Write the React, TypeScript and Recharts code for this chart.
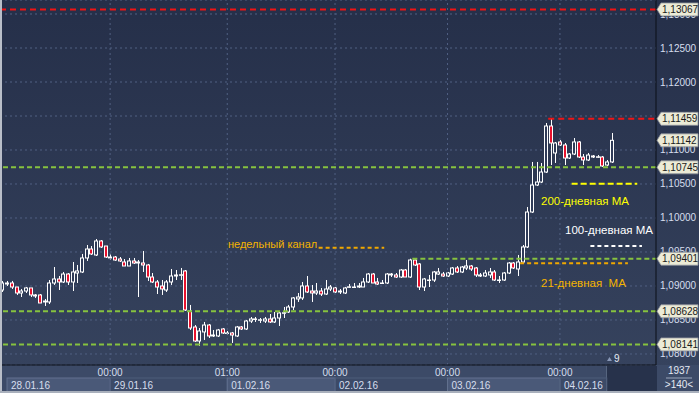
import React from 'react'
import { ComposedChart, Bar, XAxis, YAxis, CartesianGrid, ReferenceLine } from 'recharts'

// hourly EUR/USD candles, 28.01.16 - 04.02.16
const opens = [
  1.08941, 1.09044, 1.09044, 1.08985, 1.08897, 1.08926, 1.08971, 1.08868, 1.08868, 1.08765,
  1.08765, 1.09044, 1.09103, 1.09059, 1.09176, 1.09059, 1.09191, 1.09206, 1.09412, 1.09544,
  1.09456, 1.09662, 1.09588, 1.09426, 1.09426, 1.09397, 1.09353, 1.09294, 1.09368, 1.09338,
  1.09338, 1.09309, 1.09132, 1.09059, 1.09000, 1.08941, 1.09059, 1.09162, 1.09162, 1.09221,
  1.08632, 1.08397, 1.08191, 1.08324, 1.08426, 1.08279, 1.08265, 1.08368, 1.08309, 1.08309,
  1.08265, 1.08397, 1.08368, 1.08485, 1.08515, 1.08500, 1.08485, 1.08515, 1.08471, 1.08529,
  1.08603, 1.08618, 1.08691, 1.08809, 1.08824, 1.09000, 1.08926, 1.08897, 1.08926, 1.08882,
  1.08956, 1.08971, 1.08912, 1.08897, 1.08985, 1.08985, 1.08985, 1.08985, 1.09059, 1.09176,
  1.09059, 1.09044, 1.09044, 1.09176, 1.09162, 1.09132, 1.09235, 1.09132, 1.09382, 1.09324,
  1.08985, 1.09088, 1.09088, 1.09176, 1.09176, 1.09147, 1.09176, 1.09265, 1.09206, 1.09265,
  1.09294, 1.09265, 1.09162, 1.09147, 1.09162, 1.09206, 1.09088, 1.09088, 1.09191, 1.09338,
  1.09250, 1.09353, 1.09574, 1.10088, 1.10485, 1.10529, 1.10676, 1.11353, 1.10956, 1.11118,
  1.11074, 1.10882, 1.10941, 1.11118, 1.10897, 1.10853, 1.10912, 1.10897, 1.10897, 1.10779,
  1.10824,
]
const highs = [
  1.09074, 1.09074, 1.09074, 1.08985, 1.08956, 1.08985, 1.08971, 1.08882, 1.08882, 1.08809,
  1.09088, 1.09279, 1.09147, 1.09206, 1.09191, 1.09353, 1.09309, 1.09471, 1.09603, 1.09588,
  1.09691, 1.09676, 1.09588, 1.09471, 1.09441, 1.09426, 1.09397, 1.09412, 1.09412, 1.09382,
  1.09515, 1.09324, 1.09191, 1.09088, 1.09088, 1.09088, 1.09250, 1.09235, 1.09265, 1.09235,
  1.08721, 1.08426, 1.08382, 1.08471, 1.08441, 1.08353, 1.08368, 1.08382, 1.08338, 1.08324,
  1.08412, 1.08412, 1.08500, 1.08544, 1.08544, 1.08529, 1.08544, 1.08588, 1.08618, 1.08618,
  1.08691, 1.08721, 1.08838, 1.08897, 1.09059, 1.09147, 1.09015, 1.09044, 1.08971, 1.09088,
  1.09015, 1.08985, 1.08956, 1.08985, 1.09029, 1.09044, 1.09044, 1.09118, 1.09191, 1.09191,
  1.09118, 1.09088, 1.09191, 1.09191, 1.09191, 1.09250, 1.09250, 1.09401, 1.09390, 1.09338,
  1.09118, 1.09162, 1.09221, 1.09265, 1.09206, 1.09206, 1.09279, 1.09294, 1.09294, 1.09382,
  1.09309, 1.09279, 1.09191, 1.09235, 1.09265, 1.09235, 1.09147, 1.09206, 1.09353, 1.09353,
  1.09456, 1.09603, 1.10162, 1.10824, 1.10824, 1.10809, 1.11397, 1.11459, 1.11118, 1.11147,
  1.11103, 1.10956, 1.11176, 1.11132, 1.10941, 1.10956, 1.10926, 1.10926, 1.10912, 1.10853,
  1.11250,
]
const lows = [
  1.08912, 1.09000, 1.08956, 1.08868, 1.08838, 1.08897, 1.08838, 1.08824, 1.08750, 1.08706,
  1.08735, 1.09015, 1.08941, 1.09044, 1.09015, 1.08926, 1.09044, 1.09191, 1.09368, 1.09456,
  1.09441, 1.09559, 1.09412, 1.09382, 1.09368, 1.09353, 1.09294, 1.09294, 1.09324, 1.08838,
  1.09206, 1.09074, 1.09044, 1.08882, 1.08868, 1.08912, 1.09015, 1.09088, 1.09088, 1.08632,
  1.08353, 1.08176, 1.08120, 1.08206, 1.08235, 1.08250, 1.08250, 1.08294, 1.08279, 1.08162,
  1.08250, 1.08353, 1.08353, 1.08456, 1.08471, 1.08456, 1.08456, 1.08456, 1.08456, 1.08412,
  1.08529, 1.08603, 1.08647, 1.08765, 1.08794, 1.08897, 1.08765, 1.08868, 1.08853, 1.08868,
  1.08926, 1.08897, 1.08882, 1.08882, 1.08971, 1.08971, 1.08971, 1.08985, 1.09044, 1.09044,
  1.09015, 1.09029, 1.09029, 1.09132, 1.09118, 1.09118, 1.09132, 1.09118, 1.09294, 1.08941,
  1.08926, 1.08985, 1.09059, 1.09162, 1.09132, 1.09132, 1.09162, 1.09191, 1.09191, 1.09235,
  1.09221, 1.09132, 1.09132, 1.09132, 1.09118, 1.09074, 1.09044, 1.09074, 1.09176, 1.09250,
  1.09147, 1.09338, 1.09559, 1.10074, 1.10471, 1.10515, 1.10662, 1.10779, 1.10809, 1.11059,
  1.10779, 1.10868, 1.10926, 1.10882, 1.10779, 1.10838, 1.10882, 1.10882, 1.10750, 1.10765,
  1.10809,
]
const closes = [
  1.09044, 1.09029, 1.08985, 1.08897, 1.08926, 1.08971, 1.08868, 1.08853, 1.08750, 1.08779,
  1.09044, 1.09103, 1.09059, 1.09176, 1.09059, 1.09206, 1.09221, 1.09412, 1.09544, 1.09471,
  1.09662, 1.09574, 1.09426, 1.09412, 1.09382, 1.09368, 1.09294, 1.09368, 1.09338, 1.09353,
  1.09309, 1.09132, 1.09059, 1.08985, 1.08956, 1.09059, 1.09147, 1.09147, 1.09165, 1.08647,
  1.08382, 1.08191, 1.08338, 1.08426, 1.08265, 1.08265, 1.08353, 1.08309, 1.08305, 1.08279,
  1.08397, 1.08368, 1.08485, 1.08515, 1.08512, 1.08503, 1.08515, 1.08471, 1.08529, 1.08603,
  1.08606, 1.08691, 1.08824, 1.08838, 1.09000, 1.08912, 1.08897, 1.08926, 1.08882, 1.08956,
  1.08985, 1.08912, 1.08926, 1.08971, 1.08988, 1.08982, 1.09000, 1.09059, 1.09176, 1.09044,
  1.09029, 1.09041, 1.09176, 1.09162, 1.09132, 1.09235, 1.09132, 1.09382, 1.09309, 1.08985,
  1.09103, 1.09085, 1.09206, 1.09206, 1.09147, 1.09191, 1.09265, 1.09206, 1.09279, 1.09294,
  1.09250, 1.09162, 1.09147, 1.09191, 1.09206, 1.09088, 1.09085, 1.09191, 1.09338, 1.09265,
  1.09353, 1.09574, 1.10088, 1.10485, 1.10529, 1.10676, 1.11353, 1.11103, 1.11103, 1.11074,
  1.10882, 1.10941, 1.11118, 1.10897, 1.10853, 1.10926, 1.10897, 1.10900, 1.10765, 1.10824,
  1.11142,
]

const SLOTS = 140
const W = 699
const H = 393
const AXIS_W = 43
const AXIS_H = 28
const SLOT_W = (W - AXIS_W) / SLOTS

// bottom axis: day boundaries
const dayTicks = [1, 23, 48, 71, 95, 119]
const dayEnds = [23, 48, 71, 95, 119, 129]
const timeLabels = ['', '00:00', '01:00', '00:00', '00:00', '00:00']
const dateLabels = ['28.01.16', '29.01.16', '01.02.16', '02.02.16', '03.02.16', '04.02.16']
const dateBoxed = [true, false, true, false, true, false]
const dayLines = [23, 48, 71, 95, 119]

// price axis
const priceDomain = [1.07838, 1.13206]
const priceTicks = [1.08, 1.085, 1.09, 1.095, 1.1, 1.105, 1.11, 1.115, 1.12, 1.125, 1.13]
const tagPrices = [1.13067, 1.11459, 1.11142, 1.10745, 1.09401, 1.08628, 1.08141]

// levels
const topLevel = 1.13067
const supportLevels = [1.10745, 1.08628, 1.08141]
const highLevel = 1.11459
const channelLevel = 1.09401
const ma200 = 1.10505
const ma100 = 1.09588
const ma21 = 1.09334
const weeklyChannel = 1.09564

const RED = '#f01414'
const GREEN = '#86c23f'
const ORANGE = '#f0a800'
const FONT = 'Liberation Sans, Arial, sans-serif'

const fmt = (v: number) => v.toFixed(5).replace('.', ',')

const data = Array.from({ length: SLOTS }, (_, i) =>
  i < opens.length
    ? { i, o: opens[i], h: highs[i], l: lows[i], c: closes[i], range: [lows[i], highs[i]] }
    : { i, range: null }
)

const Candle = (props: any) => {
  const { x, y, width, height, payload } = props
  if (!payload || payload.o == null) return null
  const { o, h, l, c } = payload
  const X = Math.round(x + width / 2)
  const py = (p: number) => (h === l ? y : y + ((h - p) / (h - l)) * height)
  const top = py(Math.max(o, c))
  const bot = py(Math.min(o, c))
  const bull = c >= o
  return (
    <g>
      <line x1={X + 0.5} x2={X + 0.5} y1={y} y2={y + height} stroke="#fff" strokeWidth={1} />
      <rect x={X - 1.5} y={top} width={3} height={Math.max(bot - top, 0.5)}
        fill={bull ? '#2f3b58' : '#e8112d'} stroke="#fff" strokeWidth={1} />
    </g>
  )
}

const PriceTick = (props: any) => {
  const { x, y, payload } = props
  return (
    <text x={x} y={y + 3.5} fill="#d6deee" fontSize={10} fontFamily={FONT}>{fmt(payload.value)}</text>
  )
}

const DayTick = (props: any) => {
  const { x, y, payload } = props
  const k = dayTicks.indexOf(payload.value)
  if (k < 0) return null
  const w = (dayEnds[k] - dayTicks[k]) * SLOT_W
  return (
    <g fontFamily={FONT} fontSize={10}>
      <rect x={x} y={y + 13} width={w} height={14}
        fill={dateBoxed[k] ? '#4a5978' : 'none'} stroke={dateBoxed[k] ? '#62718f' : '#4d5c7a'} />
      {timeLabels[k] && (
        <text x={x} y={y + 11} fill="#d6deee" textAnchor="middle">{timeLabels[k]}</text>
      )}
      <text x={x + 4} y={y + 24} fill="#d6deee">{dateLabels[k]}</text>
    </g>
  )
}

const PriceTag = ({ viewBox, value }: any) => {
  const x = viewBox.x + viewBox.width
  const y = viewBox.y
  return (
    <g>
      <polygon
        points={`${x + 1},${y} ${x + 5},${y - 6.5} ${x + 42},${y - 6.5} ${x + 42},${y + 6.5} ${x + 5},${y + 6.5}`}
        fill="#ecebd6" stroke="#8a8f99" strokeWidth={0.8} />
      <text x={x + 6} y={y + 3.5} fill="#1a1a1a" fontSize={10} fontFamily={FONT}>{fmt(value)}</text>
    </g>
  )
}

export default function App() {
  return (
    <div style={{ position: 'absolute', left: 0, top: 0, width: W, height: H, overflow: 'hidden',
      background: 'linear-gradient(#252f49, #37445f)' }}>
      <div style={{ position: 'absolute', left: 0, top: H - AXIS_H, width: W, height: AXIS_H, background: '#3c4a67' }} />
      <div style={{ position: 'absolute', left: 606, top: H - AXIS_H + 1, width: 50, height: 25, background: '#27324b', borderLeft: '1px solid #56657f' }} />
      <ComposedChart width={W} height={H} data={data} margin={{ top: 0, right: 0, bottom: 0, left: 0 }}
        style={{ position: 'absolute', left: 0, top: 0 }}>
        <CartesianGrid vertical={false} stroke="#506082" strokeDasharray="2 3" />
        <XAxis dataKey="i" type="category" ticks={dayTicks} interval={0} height={AXIS_H}
          tickLine={false} tickSize={0} tickMargin={0} axisLine={{ stroke: '#0a0e16' }} tick={<DayTick />} />
        <YAxis orientation="right" type="number" domain={priceDomain} ticks={priceTicks} interval={0}
          allowDataOverflow width={AXIS_W} tickLine={false} tickSize={0} tickMargin={4}
          axisLine={{ stroke: '#0a0e16' }} tick={<PriceTick />} />

        {dayLines.map((d) => (
          <ReferenceLine key={'d' + d} x={d} stroke="#506082" strokeDasharray="2 3" />
        ))}

        <ReferenceLine y={topLevel} stroke={RED} strokeWidth={2} strokeDasharray="6 4" />
        {supportLevels.map((p) => (
          <ReferenceLine key={'s' + p} y={p} stroke={GREEN} strokeWidth={2} strokeDasharray="5 3" />
        ))}
        <ReferenceLine segment={[{ x: 116, y: highLevel }, { x: 139, y: highLevel }]} position="end"
          ifOverflow="visible" stroke={RED} strokeWidth={2} strokeDasharray="6 4" />
        <ReferenceLine segment={[{ x: 87, y: channelLevel }, { x: 139, y: channelLevel }]} position="end"
          ifOverflow="visible" stroke={GREEN} strokeWidth={2} strokeDasharray="5 3" />
        <ReferenceLine segment={[{ x: 122, y: ma200 }, { x: 136, y: ma200 }]} position="start"
          ifOverflow="visible" stroke="#ffff00" strokeWidth={2} strokeDasharray="6 3" />
        <ReferenceLine segment={[{ x: 126, y: ma100 }, { x: 137, y: ma100 }]} position="start"
          ifOverflow="visible" stroke="#ffffff" strokeWidth={2} strokeDasharray="4 3" />
        <ReferenceLine segment={[{ x: 111, y: ma21 }, { x: 134, y: ma21 }]} position="start"
          ifOverflow="visible" stroke={ORANGE} strokeWidth={2} strokeDasharray="4 3" />
        <ReferenceLine segment={[{ x: 68, y: weeklyChannel }, { x: 82, y: weeklyChannel }]} position="start"
          ifOverflow="visible" stroke={ORANGE} strokeWidth={2} strokeDasharray="4 3" />

        <Bar dataKey="range" isAnimationActive={false} shape={(p: any) => <Candle {...p} />} />

        {tagPrices.map((p) => (
          <ReferenceLine key={'t' + p} y={p} stroke="none" zIndex={2000}
            label={(lp: any) => <PriceTag viewBox={lp.viewBox} value={p} />} />
        ))}

        <text x={228} y={248} fill="#f5b400" fontSize={11} fontFamily={FONT}>недельный канал</text>
        <text x={541} y={205} fill="#ffff00" fontSize={11.5} fontFamily={FONT}>200-дневная МА</text>
        <text x={565} y={234} fill="#ffffff" fontSize={11.5} fontFamily={FONT}>100-дневная МА</text>
        <text x={541} y={287} fill="#f5b400" fontSize={11.5} fontFamily={FONT} style={{ whiteSpace: 'pre' }}>21-дневная  МА</text>

        <path d="M607,361 L609.5,357 L612,361 Z" fill="#8a99b8" />
        <text x={614} y={362} fill="#e4e9f2" fontSize={10} fontFamily={FONT}>9</text>

        <text x={679} y={374} fill="#e4e9f2" fontSize={10} fontFamily={FONT} textAnchor="middle">1937</text>
        <line x1={666} x2={692} y1={378} y2={378} stroke="#9aa6bd" />
        <text x={679} y={388} fill="#e4e9f2" fontSize={10} fontFamily={FONT} textAnchor="middle">{'>140<'}</text>
      </ComposedChart>
      <div style={{ position: 'absolute', left: 0, top: 0, width: 2, height: H, background: '#b9bec8' }} />
      <div style={{ position: 'absolute', left: 0, top: H - 2, width: W, height: 2, background: '#a9b0bc' }} />
    </div>
  )
}
